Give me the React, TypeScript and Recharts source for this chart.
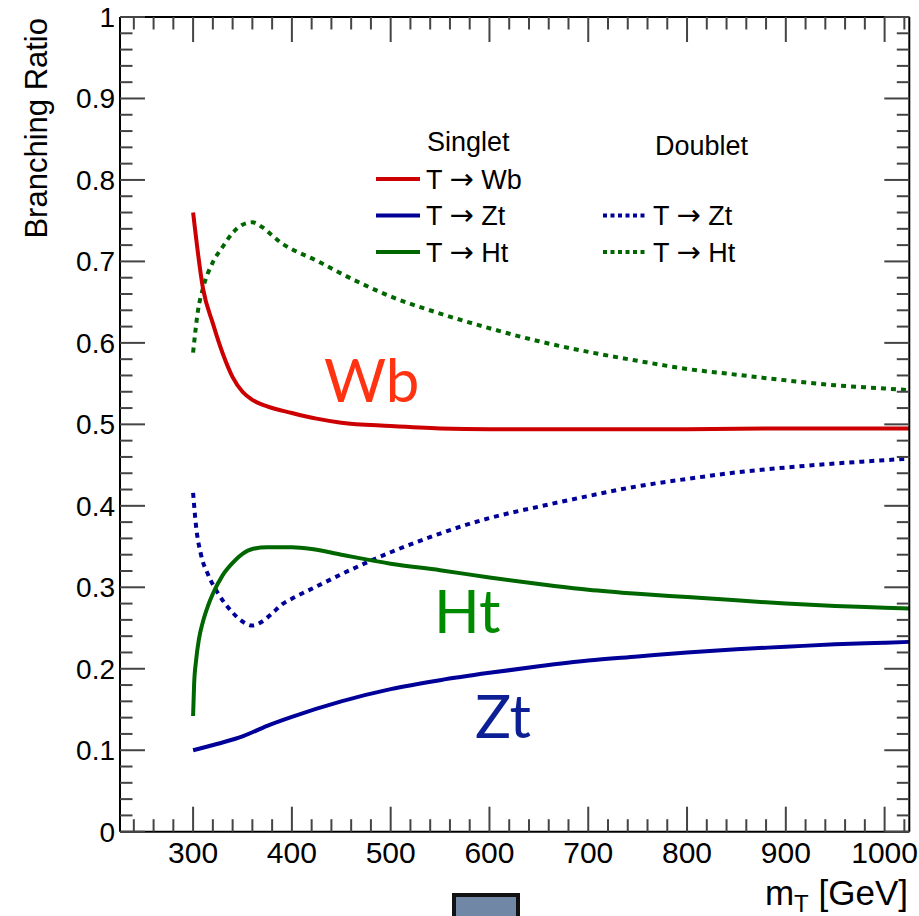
import React from 'react';
import { LineChart, Line, XAxis, YAxis } from 'recharts';

// ---------- data ----------
const massWbSinglet = [300, 310, 320, 330, 340, 350, 360, 375, 400, 425, 450, 500, 550, 600, 700, 800, 900, 1000, 1025];
const brWbSinglet = [0.760, 0.667, 0.624, 0.587, 0.558, 0.540, 0.530, 0.522, 0.514, 0.507, 0.502, 0.498, 0.495, 0.494, 0.494, 0.494, 0.495, 0.495, 0.495];

const massZtSinglet = [300, 325, 350, 375, 400, 450, 500, 550, 600, 650, 700, 750, 800, 850, 900, 950, 1000, 1025];
const brZtSinglet = [0.100, 0.108, 0.117, 0.130, 0.141, 0.160, 0.175, 0.186, 0.195, 0.203, 0.210, 0.215, 0.220, 0.224, 0.227, 0.230, 0.232, 0.233];

const massHtSinglet = [300, 301, 303, 306, 310, 315, 320, 330, 340, 350, 360, 375, 400, 420, 450, 500, 550, 600, 650, 700, 750, 800, 850, 900, 950, 1000, 1025];
const brHtSinglet = [0.142, 0.180, 0.210, 0.237, 0.258, 0.277, 0.292, 0.315, 0.330, 0.341, 0.347, 0.349, 0.349, 0.347, 0.340, 0.329, 0.321, 0.312, 0.304, 0.297, 0.292, 0.288, 0.284, 0.280, 0.277, 0.275, 0.274];

const massZtDoublet = [300, 303, 308, 315, 325, 340, 350, 360, 370, 380, 390, 400, 425, 450, 500, 550, 600, 650, 700, 750, 800, 850, 900, 950, 1000, 1025];
const brZtDoublet = [0.416, 0.375, 0.340, 0.316, 0.293, 0.269, 0.258, 0.253, 0.258, 0.268, 0.279, 0.286, 0.301, 0.316, 0.343, 0.366, 0.385, 0.399, 0.412, 0.424, 0.433, 0.441, 0.447, 0.452, 0.456, 0.458];

const massHtDoublet = [300, 305, 310, 320, 330, 340, 350, 360, 370, 380, 390, 400, 425, 450, 500, 550, 600, 650, 700, 750, 800, 850, 900, 950, 1000, 1025];
const brHtDoublet = [0.588, 0.640, 0.667, 0.699, 0.718, 0.735, 0.745, 0.748, 0.742, 0.732, 0.722, 0.715, 0.701, 0.685, 0.657, 0.636, 0.618, 0.602, 0.589, 0.578, 0.568, 0.561, 0.554, 0.548, 0.544, 0.542];

const xTicks = [240, 260, 280, 300, 320, 340, 360, 380, 400, 420, 440, 460, 480, 500, 520, 540, 560, 580, 600, 620, 640, 660, 680, 700, 720, 740, 760, 780, 800, 820, 840, 860, 880, 900, 920, 940, 960, 980, 1000, 1020];
const xMajorLabels = ['300', '400', '500', '600', '700', '800', '900', '1000'];
const yTicks = [0, 0.02, 0.04, 0.06, 0.08, 0.1, 0.12, 0.14, 0.16, 0.18, 0.2, 0.22, 0.24, 0.26, 0.28, 0.3, 0.32, 0.34, 0.36, 0.38, 0.4, 0.42, 0.44, 0.46, 0.48, 0.5, 0.52, 0.54, 0.56, 0.58, 0.6, 0.62, 0.64, 0.66, 0.68, 0.7, 0.72, 0.74, 0.76, 0.78, 0.8, 0.82, 0.84, 0.86, 0.88, 0.9, 0.92, 0.94, 0.96, 0.98, 1];
const yMajorLabels = ['0', '0.1', '0.2', '0.3', '0.4', '0.5', '0.6', '0.7', '0.8', '0.9', '1'];

const zip = (xs: number[], ys: number[]) => xs.map((m, i) => ({ m, br: ys[i] }));

const RED = '#cc0000';
const BLUE = '#000099';
const GREEN = '#006600';

const singletSeries = [
  { decay: 'Wb', color: RED, data: zip(massWbSinglet, brWbSinglet) },
  { decay: 'Zt', color: BLUE, data: zip(massZtSinglet, brZtSinglet) },
  { decay: 'Ht', color: GREEN, data: zip(massHtSinglet, brHtSinglet) },
];
const doubletSeries = [
  { decay: 'Zt', color: BLUE, data: zip(massZtDoublet, brZtDoublet) },
  { decay: 'Ht', color: GREEN, data: zip(massHtDoublet, brHtDoublet) },
];

const FONT = '"Liberation Sans", Arial, Helvetica, sans-serif';
const ARROW_FONT = '"DejaVu Sans", sans-serif';
const TICK_COLOR = '#444';
const MAJOR = 25;
const MINOR = 12.5;

const xIsMajor = (v: number) => Math.round(v) % 100 === 0;
const yIsMajor = (v: number) => Math.round(v * 100) % 10 === 0;
const xLabel = (v: number) => xMajorLabels.find((l) => Number(l) === Math.round(v)) || '';
const yLabel = (v: number) => yMajorLabels[Math.round(v * 10)] || '';

const BottomTick = (props: any) => {
  const { x, y, payload } = props;
  const major = xIsMajor(payload.value);
  return (
    <g>
      <line x1={x} x2={x} y1={y} y2={y - (major ? MAJOR : MINOR)} stroke={TICK_COLOR} strokeWidth={2} />
      {major && (
        <text x={x} y={y + 31} textAnchor="middle" fontFamily={FONT} fontSize={30} fill="#000">
          {xLabel(payload.value)}
        </text>
      )}
    </g>
  );
};

const TopTick = (props: any) => {
  const { x, y, payload } = props;
  const major = xIsMajor(payload.value);
  return <line x1={x} x2={x} y1={y} y2={y + (major ? MAJOR : MINOR)} stroke={TICK_COLOR} strokeWidth={2} />;
};

const LeftTick = (props: any) => {
  const { x, y, payload } = props;
  const major = yIsMajor(payload.value);
  return (
    <g>
      <line x1={x} x2={x + (major ? MAJOR : MINOR)} y1={y} y2={y} stroke={TICK_COLOR} strokeWidth={2} />
      {major && (
        <text x={x - 5} y={y + 10} textAnchor="end" fontFamily={FONT} fontSize={28} fill="#000">
          {yLabel(payload.value)}
        </text>
      )}
    </g>
  );
};

const RightTick = (props: any) => {
  const { x, y, payload } = props;
  const major = yIsMajor(payload.value);
  return <line x1={x} x2={x - (major ? MAJOR : MINOR)} y1={y} y2={y} stroke={TICK_COLOR} strokeWidth={2} />;
};

const DASH = '5 5';

const LegendLabel = ({ x, y, decay }: { x: number; y: number; decay: string }) => (
  <text x={x} y={y} fontFamily={FONT} fontSize={27} fill="#000">
    T <tspan fontFamily={ARROW_FONT} fontSize={29}>{'\u2192'}</tspan> {decay}
  </text>
);

const Overlay = () => (
  <svg
    width={919}
    height={916}
    style={{ position: 'absolute', left: 0, top: 0, pointerEvents: 'none' }}
  >
    {/* y-axis title */}
    <text transform="translate(47,18) rotate(-90)" textAnchor="end" fontFamily={FONT} fontSize={31} fill="#000">
      Branching Ratio
    </text>
    {/* x-axis title */}
    <text x={908} y={905} textAnchor="end" fontFamily={FONT} fontSize={35} fill="#000">
      m<tspan fontSize={24} dy={7}>T</tspan>
      <tspan dy={-7}> [GeV]</tspan>
    </text>

    {/* legend */}
    <text x={427} y={151} fontFamily={FONT} fontSize={27} fill="#000">Singlet</text>
    <text x={655} y={155} fontFamily={FONT} fontSize={27} fill="#000">Doublet</text>
    {singletSeries.map((s, i) => {
      const cy = 179 + i * 36.5;
      return (
        <g key={'s' + i}>
          <line x1={376} x2={420} y1={cy} y2={cy} stroke={s.color} strokeWidth={4} />
          <LegendLabel x={426} y={cy + 9.5} decay={s.decay} />
        </g>
      );
    })}
    {doubletSeries.map((s, i) => {
      const cy = 179 + (i + 1) * 36.5;
      return (
        <g key={'d' + i}>
          <line x1={603} x2={647} y1={cy} y2={cy} stroke={s.color} strokeWidth={4} strokeDasharray="4 3.5" />
          <LegendLabel x={653} y={cy + 9.5} decay={s.decay} />
        </g>
      );
    })}

    {/* annotations */}
    <text x={324} y={402} fontFamily="Lato, 'Open Sans', sans-serif" fontSize={60} fill="#ff3311">Wb</text>
    <text x={434} y={633} fontFamily="Lato, 'Open Sans', sans-serif" fontSize={60} fill="#008a00">Ht</text>
    <text x={475} y={738} fontFamily="Lato, 'Open Sans', sans-serif" fontSize={60} fill="#0c1f94">Zt</text>
  </svg>
);

export default function App() {
  return (
    <div style={{ position: 'absolute', left: 0, top: 0, width: 919, height: 916, background: '#fff', overflow: 'hidden' }}>
      <LineChart width={919} height={916} margin={{ top: 16, right: 8.7, bottom: 0, left: 0 }}>
        <XAxis
          xAxisId="b"
          type="number"
          dataKey="m"
          domain={[226, 1025]}
          allowDataOverflow
          ticks={xTicks}
          interval={0}
          orientation="bottom"
          height={84.3}
          tickSize={0}
          tickMargin={0}
          tickLine={false}
          axisLine={{ stroke: '#000', strokeWidth: 2 }}
          tick={<BottomTick />}
        />
        <XAxis
          xAxisId="t"
          type="number"
          dataKey="m"
          domain={[226, 1025]}
          allowDataOverflow
          ticks={xTicks}
          interval={0}
          orientation="top"
          height={1}
          tickSize={0}
          tickMargin={0}
          tickLine={false}
          axisLine={{ stroke: '#000', strokeWidth: 2 }}
          tick={<TopTick />}
        />
        <YAxis
          yAxisId="l"
          type="number"
          domain={[0, 1]}
          allowDataOverflow
          ticks={yTicks}
          interval={0}
          orientation="left"
          width={120}
          tickSize={0}
          tickMargin={0}
          tickLine={false}
          axisLine={{ stroke: '#000', strokeWidth: 2 }}
          tick={<LeftTick />}
        />
        <YAxis
          yAxisId="r"
          type="number"
          domain={[0, 1]}
          allowDataOverflow
          ticks={yTicks}
          interval={0}
          orientation="right"
          width={1}
          tickSize={0}
          tickMargin={0}
          tickLine={false}
          axisLine={{ stroke: '#000', strokeWidth: 2 }}
          tick={<RightTick />}
        />
        {doubletSeries.map((s, i) => (
          <Line
            key={'dl' + i}
            xAxisId="b"
            yAxisId="l"
            data={s.data}
            dataKey="br"
            name={'Doublet T \u2192 ' + s.decay}
            type="monotone"
            stroke={s.color}
            strokeWidth={4}
            strokeDasharray={DASH}
            dot={false}
            activeDot={false}
            isAnimationActive={false}
          />
        ))}
        {singletSeries.map((s, i) => (
          <Line
            key={'sl' + i}
            xAxisId="b"
            yAxisId="l"
            data={s.data}
            dataKey="br"
            name={'Singlet T \u2192 ' + s.decay}
            type="monotone"
            stroke={s.color}
            strokeWidth={4}
            dot={false}
            activeDot={false}
            isAnimationActive={false}
          />
        ))}
      </LineChart>
      <Overlay />
      <div
        style={{
          position: 'absolute',
          left: 452,
          top: 893,
          width: 60,
          height: 40,
          border: '4px solid #111',
          background: '#7088a6',
        }}
      />
    </div>
  );
}
